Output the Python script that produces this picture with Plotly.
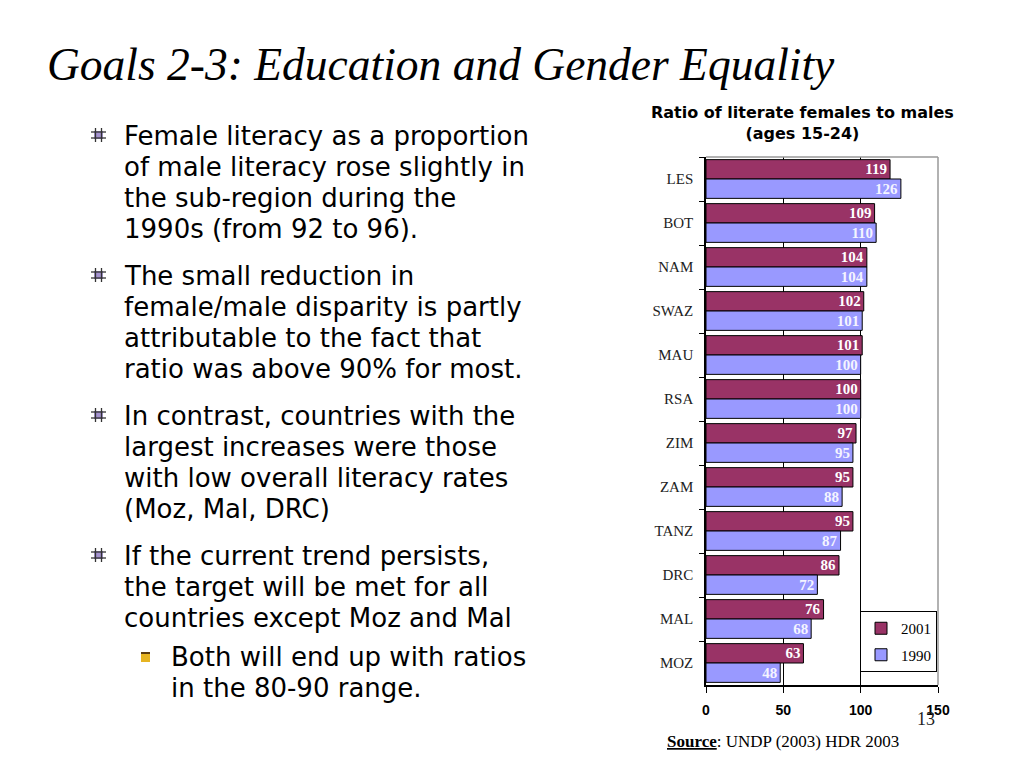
import plotly.graph_objects as go

# ---------------- data ----------------
countries = ["LES", "BOT", "NAM", "SWAZ", "MAU", "RSA", "ZIM", "ZAM", "TANZ", "DRC", "MAL", "MOZ"]
ratio_2001 = [119, 109, 104, 102, 101, 100, 97, 95, 95, 86, 76, 63]
ratio_1990 = [126, 110, 104, 101, 100, 100, 95, 88, 87, 72, 68, 48]
x_ticks = [0, 50, 100, 150]

page_title = "Goals 2-3: Education and Gender Equality"
chart_title = "Ratio of literate females to males<br>(ages 15-24)"
bullets = [
    ["Female literacy as a proportion", "of male literacy rose slightly in",
     "the sub-region during the", "1990s (from 92 to 96)."],
    ["The small reduction in", "female/male disparity is partly",
     "attributable to the fact that", "ratio was above 90% for most."],
    ["In contrast, countries with the", "largest increases were those",
     "with low overall literacy rates", "(Moz, Mal, DRC)"],
    ["If the current trend persists,", "the target will be met for all",
     "countries except Moz and Mal"],
]
sub_bullet = ["Both will end up with ratios", "in the 80-90 range."]

# ---------------- geometry helpers (screen pixels) ----------------
OFF = 8                      # page body margin
FW, FH = 1024 - 2 * OFF, 768 - 2 * OFF
L, R, T, B = 706, 938, 157, 685   # plot area on screen


def px(x):
    return (x - L) / (R - L)


def py(y):
    return (B - y) / (B - T)


BODY = "DejaVu Sans"

fig = go.Figure()
fig.add_trace(go.Bar(
    y=countries, x=ratio_2001, name="2001", orientation="h", legendgroup="a",
    marker=dict(color="#993366", line=dict(color="black", width=1)),
    text=ratio_2001, texttemplate="<b>%{text}</b>", textposition="inside",
    insidetextanchor="end", textangle=0, constraintext="none",
    textfont=dict(family="Liberation Serif", size=15, color="white"),
))
fig.add_trace(go.Bar(
    y=countries, x=ratio_1990, name="1990", orientation="h", legendgroup="b",
    marker=dict(color="#9999FF", line=dict(color="black", width=1)),
    text=ratio_1990, texttemplate="<b>%{text}</b>", textposition="inside",
    insidetextanchor="end", textangle=0, constraintext="none",
    textfont=dict(family="Liberation Serif", size=15, color="#f4f4ff"),
))

annotations = []
shapes = []

# page title
annotations.append(dict(
    text=f"<i>{page_title}</i>", x=px(45), y=py(65), xref="paper", yref="paper",
    xanchor="left", yanchor="middle", showarrow=False,
    font=dict(family="Liberation Serif", size=45.5, color="black")))

# chart title
annotations.append(dict(
    text=f"<b>{chart_title}</b>", x=px(802), y=py(123), xref="paper", yref="paper",
    xanchor="center", yanchor="middle", showarrow=False, align="center",
    font=dict(family=BODY, size=16, color="black")))

# bullets
line_h = 31
starts = [136, 276, 416, 556]
for lines, y0 in zip(bullets, starts):
    for i, ln in enumerate(lines):
        annotations.append(dict(
            text=ln, x=px(122), y=py(y0 + i * line_h), xref="paper", yref="paper",
            xanchor="left", yanchor="middle", showarrow=False,
            font=dict(family=BODY, size=26, color="black")))
    # hash-style bullet icon
    cy = y0 - 1
    shapes.append(dict(type="rect", xref="paper", yref="paper",
                       x0=px(94), x1=px(103), y0=py(cy - 4), y1=py(cy + 4),
                       fillcolor="#a593cf", line=dict(width=0)))
    for dx in (95.5, 101.5):
        shapes.append(dict(type="line", xref="paper", yref="paper",
                           x0=px(dx), x1=px(dx), y0=py(cy - 7), y1=py(cy + 7),
                           line=dict(color="#333", width=1.3)))
    for dy in (-3, 3):
        shapes.append(dict(type="line", xref="paper", yref="paper",
                           x0=px(91), x1=px(106), y0=py(cy + dy), y1=py(cy + dy),
                           line=dict(color="#333", width=1.3)))

for i, ln in enumerate(sub_bullet):
    annotations.append(dict(
        text=ln, x=px(169), y=py(657 + i * line_h), xref="paper", yref="paper",
        xanchor="left", yanchor="middle", showarrow=False,
        font=dict(family=BODY, size=26, color="black")))
shapes.append(dict(type="rect", xref="paper", yref="paper",
                   x0=px(141), x1=px(150), y0=py(662), y1=py(653),
                   fillcolor="#e6b422", line=dict(width=0)))
shapes.append(dict(type="line", xref="paper", yref="paper",
                   x0=px(141), x1=px(150), y0=py(653), y1=py(653),
                   line=dict(color="#5a3b10", width=2)))

# page number and source
annotations.append(dict(
    text="13", x=px(926), y=py(719), xref="paper", yref="paper",
    xanchor="center", yanchor="middle", showarrow=False,
    font=dict(family="Liberation Serif", size=18, color="#222")))
annotations.append(dict(
    text="<b><u>Source</u></b>: UNDP (2003) HDR 2003", x=px(665), y=py(741),
    xref="paper", yref="paper", xanchor="left", yanchor="middle", showarrow=False,
    font=dict(family="Liberation Serif", size=17, color="black")))

# gray top/right border of plot area
shapes.append(dict(type="line", xref="paper", yref="paper", x0=0, x1=1, y0=1, y1=1,
                   line=dict(color="#999999", width=1.5), layer="above"))
shapes.append(dict(type="line", xref="paper", yref="paper", x0=1, x1=1, y0=0, y1=1,
                   line=dict(color="#999999", width=1.5), layer="above"))

fig.update_layout(
    width=FW, height=FH,
    margin=dict(l=L - OFF, r=FW - (R - OFF), t=T - OFF, b=FH - (B - OFF), autoexpand=False),
    paper_bgcolor="white", plot_bgcolor="white",
    barmode="group", bargap=0.12, bargroupgap=0,
    showlegend=True,
    legend=dict(x=px(860), y=py(611), xanchor="left", yanchor="top",
                bgcolor="white", bordercolor="black", borderwidth=1,
                font=dict(family="Liberation Serif", size=15, color="black"),
                itemwidth=30, traceorder="grouped", tracegroupgap=4),
    annotations=annotations, shapes=shapes,
    xaxis=dict(range=[0, 150], tickvals=x_ticks, ticktext=[f"<b>{v}</b>" for v in x_ticks],
               showgrid=True, gridcolor="black", gridwidth=1,
               showline=True, linecolor="black", linewidth=1.5,
               ticks="outside", ticklen=6, tickcolor="black",
               ticklabelstandoff=5,
               tickfont=dict(family="Liberation Sans", size=14, color="black"),
               zeroline=False, fixedrange=True),
    yaxis=dict(autorange="reversed", type="category",
               showline=True, linecolor="black", linewidth=1.5,
               ticks="outside", ticklen=5, tickcolor="black", tickson="boundaries",
               ticklabelstandoff=8,
               showgrid=False,
               tickfont=dict(family="Liberation Serif", size=15, color="#222"),
               fixedrange=True),
)

fig.write_html("out.html")
